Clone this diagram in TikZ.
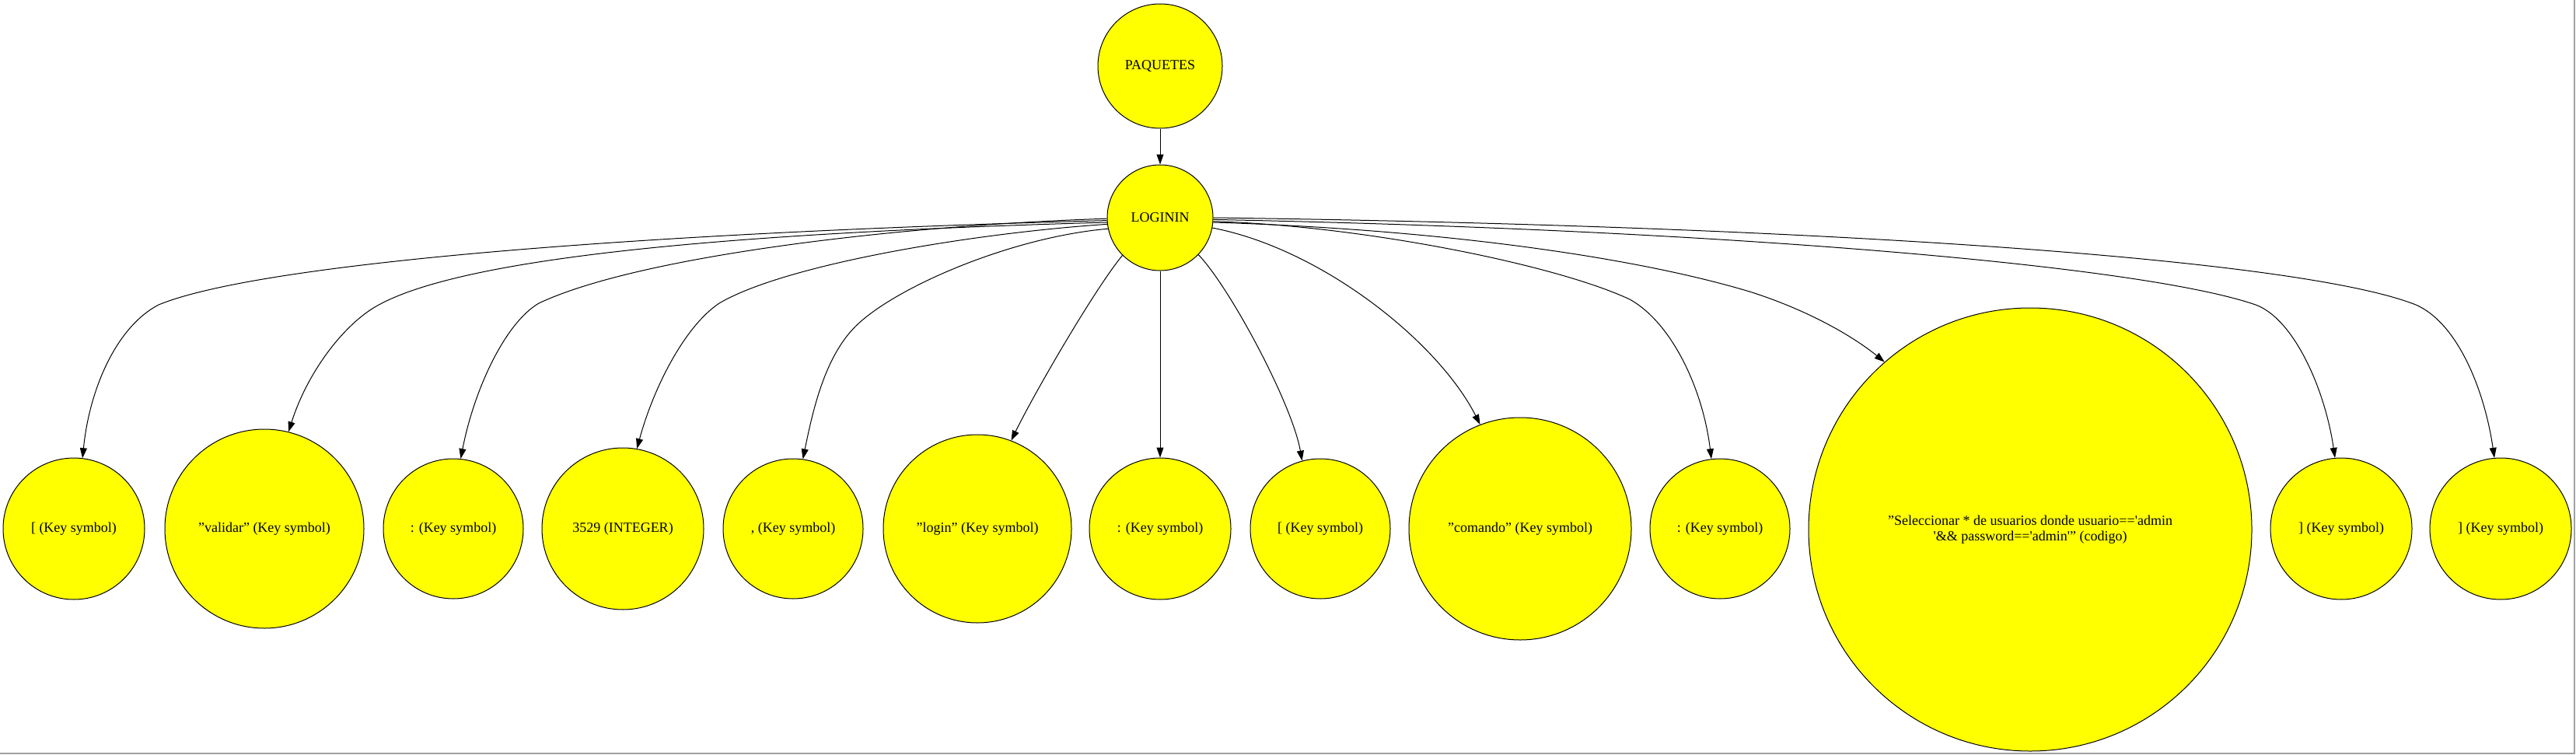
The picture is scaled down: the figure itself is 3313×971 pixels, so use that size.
\documentclass[tikz,border=0pt]{standalone}
\usepackage{fontspec}
\setmainfont{Liberation Serif}
\usetikzlibrary{arrows.meta}
\definecolor{gvyellow}{RGB}{255,255,0}
\definecolor{gvframe}{RGB}{160,160,160}
\begin{document}
\begin{tikzpicture}[x=1pt,y=-1pt,
  tok/.style={circle,draw=black,fill=gvyellow,line width=1pt,inner sep=0pt,font=\fontsize{18}{20}\selectfont,align=center},
  edge/.style={draw=black,line width=1pt,-{Triangle[length=13pt,width=9pt]}},
  frame/.style={draw=gvframe,line width=2pt}]
\useasboundingbox (0,0) rectangle (3313,971);
\draw[frame] (3311,0) -- (3311,969) -- (0,969);
% top nodes
\node[tok,minimum size=160pt] (P) at (1492,85) {PAQUETES};
\node[tok,minimum size=136pt] (L) at (1492,280) {LOGININ};
% bottom row
\node[tok,minimum size=182pt] (n1) at (95,680) {[ (Key symbol)};
\node[tok,minimum size=256pt] (n2) at (340,680) {"validar" (Key symbol)};
\node[tok,minimum size=180pt] (n3) at (583,680) {: (Key symbol)};
\node[tok,minimum size=208pt] (n4) at (801,680) {3529 (INTEGER)};
\node[tok,minimum size=180pt] (n5) at (1020,680) {, (Key symbol)};
\node[tok,minimum size=242pt] (n6) at (1257,680) {"login" (Key symbol)};
\node[tok,minimum size=182pt] (n7) at (1492,680) {: (Key symbol)};
\node[tok,minimum size=180pt] (n8) at (1698,680) {[ (Key symbol)};
\node[tok,minimum size=286pt] (n9) at (1955,680) {"comando" (Key symbol)};
\node[tok,minimum size=180pt] (n10) at (2212,680) {: (Key symbol)};
\node[tok,minimum size=570pt] (n11) at (2611,681) {"Seleccionar * de usuarios donde usuario==\textquotesingle admin\\\textquotesingle\&\& password==\textquotesingle admin\textquotesingle" (codigo)};
\node[tok,minimum size=182pt] (n12) at (3011,680) {] (Key symbol)};
\node[tok,minimum size=182pt] (n13) at (3216,680) {] (Key symbol)};
% edges
\draw[edge] (P) -- (L);
\draw[edge] (L.183) .. controls (800,300) and (330,340) .. (204,392) .. controls (150,420) and (115,500) .. (n1.83);
\draw[edge] (L.185) .. controls (1000,298) and (600,325) .. (482,395) .. controls (440,420) and (395,480) .. (n2.76);
\draw[edge] (L.181) .. controls (1150,290) and (820,330) .. (693,390) .. controls (650,415) and (610,500) .. (n3.84);
\draw[edge] (L.187) .. controls (1250,300) and (1010,340) .. (925,390) .. controls (880,420) and (840,500) .. (n4.80);
\draw[edge] (L.192) .. controls (1300,305) and (1150,370) .. (1100,420) .. controls (1060,460) and (1045,530) .. (n5.82);
\draw[edge] (L.225) .. controls (1409,370) and (1331,504) .. (n6.69);
\draw[edge] (L) -- (n7);
\draw[edge] (L.-44) .. controls (1582,370) and (1662,520) .. (n8.105);
\draw[edge] (L.-11) .. controls (1700,320) and (1850,440) .. (n9.111);
\draw[edge] (L.-4) .. controls (1750,290) and (2000,340) .. (2096,385) .. controls (2150,415) and (2190,500) .. (n10.97);
\draw[edge] (L.-5) .. controls (1850,295) and (2100,330) .. (2250,375) .. controls (2320,397) and (2380,430) .. (n11.131.6);
\draw[edge] (L.-2) .. controls (2200,295) and (2750,340) .. (2901,392) .. controls (2950,410) and (2990,500) .. (n12.95);
\draw[edge] (L.0) .. controls (2300,290) and (2950,330) .. (3107,392) .. controls (3160,415) and (3195,500) .. (n13.95);
\end{tikzpicture}
\end{document}
